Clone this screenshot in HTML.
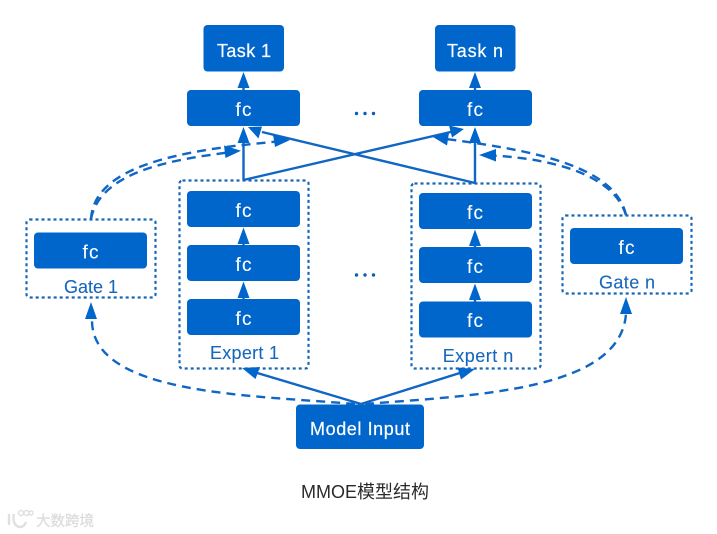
<!DOCTYPE html>
<html>
<head>
<meta charset="utf-8">
<style>
html,body{margin:0;padding:0;background:#fff;width:717px;height:534px;overflow:hidden}
svg{display:block}
text{font-family:"Liberation Sans","Noto Sans CJK SC",sans-serif}
.w{fill:#fff;font-size:18px;text-anchor:middle;stroke:#fff;stroke-width:.2}
.f{fill:#fff;font-size:19px;text-anchor:middle;stroke:#fff;stroke-width:.1}
.b{fill:#1767bd;font-size:18px;text-anchor:middle;stroke:#1767bd;stroke-width:.1}
.box{fill:#0066cc}
.dot{fill:none;stroke:#1767b5;stroke-width:2.2;stroke-dasharray:3 3}
.ln{fill:none;stroke:#0f66c4;stroke-width:2.4}
.da{fill:none;stroke:#0f66c4;stroke-width:2.4;stroke-dasharray:9 6}
.ar{fill:#0066cc}
</style>
</head>
<body>
<svg width="717" height="534" viewBox="0 0 717 534" xmlns="http://www.w3.org/2000/svg">
<!-- dotted groups -->
<rect class="dot" x="26.5" y="219.5" width="129" height="78" rx="3"/>
<rect class="dot" x="179.5" y="180.5" width="129" height="188" rx="3"/>
<rect class="dot" x="411.5" y="183.5" width="129" height="185" rx="3"/>
<rect class="dot" x="562.5" y="215.5" width="129" height="78" rx="3"/>

<!-- solid connectors -->
<path class="ln" d="M243.5 180V138M243.5 180L455 131M475 183V138M475 183L262 132M243.5 90V84M475 90V84M243.5 245V238M243.5 299V292M475 247V240M475 301.5V294M361 404L254 372M361 404L463 372"/>

<!-- dashed connectors -->
<path class="da" d="M91 219C94 166 180 150 278 141.5"/>
<path class="da" d="M91 219C100 172 170 160 228 152.5"/>
<path class="da" d="M626 215C615 165 530 150 446 139"/>
<path class="da" d="M626 215C612 170 540 158 492 155.5"/>
<path class="da" d="M355 404C250 395 90 395 92 319"/>
<path class="da" d="M365 404C480 395 620 390 626 314"/>

<!-- arrowheads -->
<g class="ar">
<polygon points="243.5,72 237.5,88 249.5,88"/>
<polygon points="475,72 469,88 481,88"/>
<polygon points="243.5,127 237.5,143 249.5,143"/>
<polygon points="475,127 469,143 481,143"/>
<polygon points="243.5,227.5 237.5,244 249.5,244"/>
<polygon points="243.5,281.5 237.5,298 249.5,298"/>
<polygon points="475,229.5 469,246 481,246"/>
<polygon points="475,283.5 469,300 481,300"/>
<polygon points="464,129 449,125.5 452,137.5"/>
<polygon points="248,127 258.5,138.5 262,126.5"/>
<polygon points="290,140 273,134.5 275,147"/>
<polygon points="241,150.7 224,145.5 225.5,158"/>
<polygon points="433,137 449,133 447,145.5"/>
<polygon points="479,155 496,149 496,161.5"/>
<polygon points="91,302 85,319 97,319"/>
<polygon points="626,297 620,314 632,314"/>
<polygon points="242,368 260,367 255.5,379"/>
<polygon points="475,369 461,379.5 457.5,367.5"/>
</g>

<!-- solid boxes -->
<g class="box">
<rect x="203.5" y="25" width="80.5" height="46.5" rx="4"/>
<rect x="435" y="25" width="80.5" height="46.5" rx="4"/>
<rect x="187" y="90" width="113" height="36" rx="4"/>
<rect x="419" y="90" width="113" height="36" rx="4"/>
<rect x="187" y="191" width="113" height="36" rx="4"/>
<rect x="187" y="245" width="113" height="36" rx="4"/>
<rect x="187" y="299" width="113" height="36" rx="4"/>
<rect x="419" y="193" width="113" height="36" rx="4"/>
<rect x="419" y="247" width="113" height="36" rx="4"/>
<rect x="419" y="301.5" width="113" height="36" rx="4"/>
<rect x="34" y="232.5" width="113" height="36" rx="4"/>
<rect x="570" y="228" width="113" height="36" rx="4"/>
<rect x="296" y="404.5" width="128" height="44.5" rx="4"/>
</g>

<!-- white labels -->
<text class="w" x="244" y="57" textLength="54">Task 1</text>
<text class="w" x="475" y="57" textLength="56">Task n</text>
<text class="f" x="243.5" y="116" textLength="16">fc</text>
<text class="f" x="475" y="116" textLength="16">fc</text>
<text class="f" x="243.5" y="217" textLength="16">fc</text>
<text class="f" x="243.5" y="271" textLength="16">fc</text>
<text class="f" x="243.5" y="325" textLength="16">fc</text>
<text class="f" x="475" y="219" textLength="16">fc</text>
<text class="f" x="475" y="273" textLength="16">fc</text>
<text class="f" x="475" y="327" textLength="16">fc</text>
<text class="f" x="90.5" y="258.5" textLength="16">fc</text>
<text class="f" x="626.5" y="254" textLength="16">fc</text>
<text class="w" x="360" y="435" textLength="100">Model Input</text>

<!-- blue labels -->
<text class="b" x="91" y="293" textLength="54">Gate 1</text>
<text class="b" x="627" y="288.5" textLength="56">Gate n</text>
<text class="b" x="244.5" y="359" textLength="69">Expert 1</text>
<text class="b" x="478" y="362" textLength="70.5">Expert n</text>

<!-- ellipses -->
<g fill="#0d5fb5">
<circle cx="356.5" cy="113.5" r="1.7"/><circle cx="365" cy="113.5" r="1.7"/><circle cx="373.5" cy="113.5" r="1.7"/>
<circle cx="356.5" cy="275" r="1.7"/><circle cx="365" cy="275" r="1.7"/><circle cx="373.5" cy="275" r="1.7"/>
</g>

<!-- caption -->
<text x="301" y="498" font-size="18" fill="#2a2a2a" textLength="128">MMOE模型结构</text>

<!-- watermark -->
<g fill="none" stroke="#e0e0e0" stroke-width="2.4">
<path d="M9 514V525"/>
<path d="M14 514C12 522 16 527 20 527C23 527 25 525 26 522"/>
</g>
<g fill="none" stroke="#e0e0e0" stroke-width="1.5">
<circle cx="21" cy="513" r="2.5"/><circle cx="26.5" cy="513" r="2.5"/><circle cx="31" cy="513" r="2"/>
</g>
<text x="36" y="526" font-size="14.5" fill="#dcdcdc" stroke="#dcdcdc" stroke-width=".3" textLength="58">大数跨境</text>
</svg>
</body>
</html>
